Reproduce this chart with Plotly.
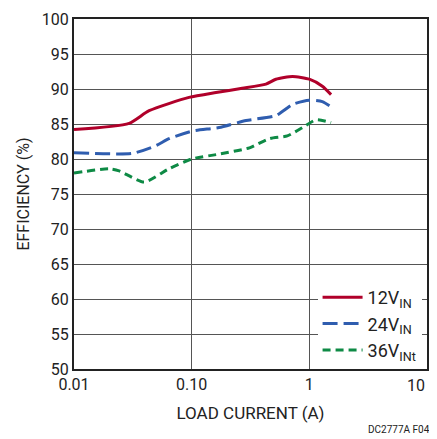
import plotly.graph_objects as go

x12 = [0.01, 0.0294, 0.0435, 0.095, 0.161, 0.269, 0.428, 0.52, 0.72, 1.0, 1.29, 1.53]
y12 = [84.2, 85.1, 86.9, 88.8, 89.5, 90.1, 90.7, 91.4, 91.8, 91.4, 90.4, 89.2]

x24 = [0.01, 0.0313, 0.0496, 0.064, 0.102, 0.171, 0.29, 0.52, 0.72, 1.0, 1.29, 1.58]
y24 = [80.9, 80.8, 81.9, 82.9, 84.0, 84.5, 85.5, 86.2, 87.8, 88.4, 88.2, 87.3]

x36 = [0.01, 0.0199, 0.0242, 0.0394, 0.064, 0.1, 0.171, 0.31, 0.457, 0.65, 0.877, 1.14, 1.53]
y36 = [78.0, 78.6, 78.3, 76.7, 78.6, 80.0, 80.7, 81.6, 82.9, 83.3, 84.5, 85.6, 85.2]

xtick_vals = [0.01, 0.1, 1, 10]
xtick_text = ["0.01", "0.10", "1", "10"]
ytick_vals = [50, 55, 60, 65, 70, 75, 80, 85, 90, 95, 100]

FONT = "Roboto, Liberation Sans, sans-serif"

fig = go.Figure()
fig.add_trace(go.Scatter(x=x12, y=y12, mode="lines", name="12V<sub>IN</sub>",
                         line=dict(color="#B0002A", width=3, shape="spline", smoothing=0.6)))
fig.add_trace(go.Scatter(x=x24, y=y24, mode="lines", name="24V<sub>IN</sub>",
                         line=dict(color="#2F5DAF", width=3, dash="15px,6px", shape="spline", smoothing=0.6)))
fig.add_trace(go.Scatter(x=x36, y=y36, mode="lines", name="36V<sub>INt</sub>",
                         line=dict(color="#0E8A45", width=3, dash="8px,5px", shape="spline", smoothing=0.6)))

# all but the last x tick label via the axis; last one right-aligned to the frame
shown_text = xtick_text[:-1] + [""]

fig.update_layout(
    width=437, height=439,
    margin=dict(l=66, r=18, t=11, b=78),
    paper_bgcolor="white", plot_bgcolor="white",
    font=dict(family=FONT, size=16, color="#222"),
    showlegend=True,
    legend=dict(x=0.69, y=0.0, xanchor="left", yanchor="bottom",
                bgcolor="white", font=dict(size=18), tracegroupgap=0,
                itemwidth=40),
    xaxis=dict(type="log", range=[-2, 1], tickvals=xtick_vals, ticktext=shown_text,
               showgrid=True, gridcolor="#555", gridwidth=1, automargin=False,
               ticklabeloverflow="allow",
               showline=True, linecolor="#222", linewidth=2, mirror=True,
               ticks="", zeroline=False,
               title=dict(text="LOAD CURRENT (A)", font=dict(size=17), standoff=14)),
    yaxis=dict(range=[50, 100], tickvals=ytick_vals,
               showgrid=True, gridcolor="#555", gridwidth=1, automargin=False,
               ticklabeloverflow="allow",
               showline=True, linecolor="#222", linewidth=2, mirror=True,
               ticks="", zeroline=False,
               title=dict(text="EFFICIENCY (%)", font=dict(size=16), standoff=8)),
)
fig.add_annotation(text=xtick_text[-1], xref="x", yref="paper", x=1, y=0,
                   xanchor="right", yanchor="top", yshift=-5, showarrow=False,
                   font=dict(size=16, family=FONT, color="#222"))
fig.add_annotation(text="DC2777A F04", xref="paper", yref="paper", x=1.014, y=-0.174,
                   xanchor="right", yanchor="middle", showarrow=False,
                   font=dict(size=10, family=FONT, color="#222"))

fig.write_html("out.html")
